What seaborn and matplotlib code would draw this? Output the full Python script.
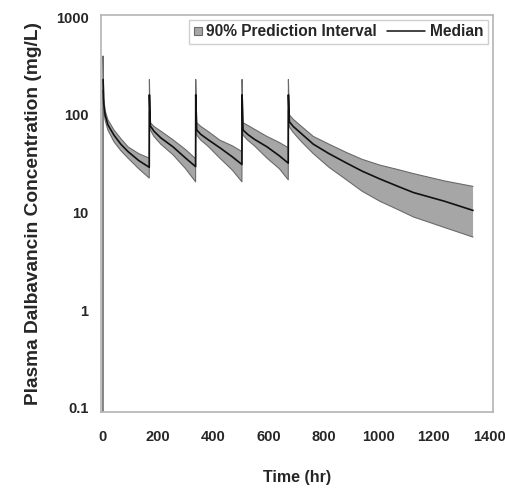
import matplotlib
matplotlib.use("Agg")
import matplotlib.pyplot as plt
import seaborn as sns
import pandas as pd
from matplotlib.patches import Patch
from matplotlib.lines import Line2D
from matplotlib.legend_handler import HandlerLine2D

sns.set_style("white")
plt.rcParams["font.family"] = ["Liberation Sans", "DejaVu Sans"]

nan = float("nan")

# simulated dalbavancin profile: 5 weekly doses (0, 168, 336, 504, 672 h)
time_hr = [
    0, 0.5, 3, 8, 18, 40, 65, 91, 130, 168,
    168.5, 172, 185, 210, 254, 300, 336,
    336.5, 340, 355, 380, 424, 470, 504,
    504.5, 508, 525, 550, 595, 640, 672,
    672.5, 676, 690, 720, 763, 820, 884, 940, 1005, 1070, 1126, 1240, 1342,
]
median_conc = [
    nan, 230, 130, 100, 79, 62, 50, 42, 34, 29,
    160, 77, 68, 58, 47, 36, 29.5,
    160, 70, 63, 56, 46, 37, 31,
    160, 70, 63, 56, 47, 38, 32,
    160, 85, 76, 64, 50, 40, 32, 26.5, 22, 18.5, 16, 13, 10.5,
]
lower_conc = [
    0.001, 180, 110, 88, 70, 53, 43, 36, 28, 22.5,
    110, 70, 60, 50, 39, 28, 20.6,
    110, 62, 55, 48, 36, 27, 20.6,
    110, 62, 55, 48, 36, 28, 21.6,
    110, 75, 66, 53, 40, 29, 21.5, 16.5, 13, 10.7, 9, 7, 5.6,
]
upper_conc = [
    0.001, 400, 150, 110, 89, 70, 57, 47, 40, 36,
    230, 83, 76, 68, 55.5, 44, 35.5,
    230, 83, 76, 68, 55, 48, 42,
    230, 83, 78, 71, 60, 52, 46,
    230, 100, 90, 76, 60, 50, 41, 35, 30.5, 27.5, 25, 21, 18.5,
]

df = pd.DataFrame({"time": time_hr, "median": median_conc,
                   "lower": lower_conc, "upper": upper_conc})


class LongLineHandler(HandlerLine2D):
    # stretch the median handle to the left, like the original legend
    def create_artists(self, legend, orig_handle, xdescent, ydescent, width,
                       height, fontsize, trans):
        extra = 2.0 * fontsize
        return super().create_artists(legend, orig_handle, xdescent + extra, ydescent,
                                      width + extra, height, fontsize, trans)


fig = plt.figure(figsize=(5.06, 4.88), dpi=100)
ax = fig.add_axes([0.1996, 0.156, 0.7745, 0.813])

band_fill = "#a6a6a6"
band_edge = "#6a6a6a"
ax.fill_between(df["time"], df["lower"], df["upper"], color=band_fill, lw=0)
ax.plot(df["time"], df["lower"], color=band_edge, lw=0.8)
ax.plot(df["time"], df["upper"], color=band_edge, lw=0.8)
sns.lineplot(data=df, x="time", y="median", color="#111111", lw=1.2,
             sort=False, estimator=None, ax=ax)

ax.set_yscale("log")
ax.set_xlim(-7, 1414)
ax.set_ylim(0.091, 1048)
ax.set_xticks([0, 200, 400, 600, 800, 1000, 1200, 1400])
ax.set_yticks([0.1, 1, 10, 100, 1000])
ax.set_yticklabels(["0.1", "1", "10", "100", "1000"])
ax.minorticks_off()

for s in ax.spines.values():
    s.set_color("#b4b4b4")
    s.set_linewidth(1.2)
ax.tick_params(axis="both", direction="out", length=6, width=1, color="#9a9a9a",
               labelsize=10.5)
ax.tick_params(axis="x", pad=7)
ax.tick_params(axis="y", pad=3)
for lab in ax.get_xticklabels() + ax.get_yticklabels():
    lab.set_fontweight("bold")

ax.set_xlabel("Time (hr)", fontsize=11.5, fontweight="bold", labelpad=19)
ax.set_ylabel("Plasma Dalbavancin Concentration (mg/L)", fontsize=13.8,
              fontweight="bold", labelpad=10)

handles = [Patch(facecolor=band_fill, edgecolor=band_edge, lw=0.8),
           Line2D([], [], color="#111111", lw=1.1)]
leg = ax.legend(handles, ["90% Prediction Interval", "Median"], loc="upper right",
                ncol=2, frameon=True, fancybox=False, borderaxespad=0.3,
                handlelength=0.5, handleheight=0.5, handletextpad=0.3,
                columnspacing=2.6, borderpad=0.3,
                handler_map={Line2D: LongLineHandler()},
                prop={"weight": "bold", "size": 11.2})
leg.get_frame().set_edgecolor("#c4c4c4")
leg.get_frame().set_linewidth(1)

fig.savefig("out.png", dpi=100)
